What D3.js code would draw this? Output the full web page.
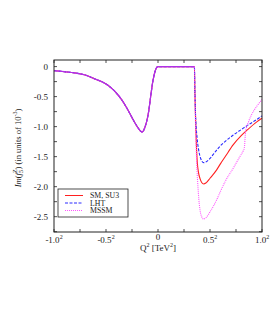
<!DOCTYPE html>
<html><head><meta charset="utf-8">
<script src="https://cdn.jsdelivr.net/npm/d3@7"></script>
<style>body{margin:0;background:#fff;} svg{display:block;} text{font-family:"Liberation Serif","DejaVu Serif",serif;}</style>
</head><body>
<svg id="c" width="273" height="327"></svg>
<script>
// shared part (Q from -1 to 0.35)
const qCommon = [-1.0,-0.9,-0.8,-0.7,-0.6,-0.55,-0.5,-0.45,-0.4,-0.35,-0.3,-0.25,-0.2,-0.17,-0.155,-0.14,-0.13,-0.11,-0.09,-0.07,-0.05,-0.03,-0.01,0.0,0.35];
const vCommon = [-0.067,-0.085,-0.105,-0.14,-0.21,-0.245,-0.29,-0.355,-0.44,-0.55,-0.69,-0.85,-1.0,-1.07,-1.09,-1.07,-1.03,-0.92,-0.75,-0.49,-0.25,-0.09,-0.01,0,0];
// after the threshold
const qSM   = [0.355,0.365,0.378,0.39,0.405,0.42,0.44,0.46,0.5,0.564,0.6,0.65,0.724,0.8,0.868,0.95,1.0];
const vSM   = [-0.45,-1.1,-1.6,-1.77,-1.87,-1.93,-1.955,-1.94,-1.86,-1.72,-1.62,-1.49,-1.30,-1.15,-1.04,-0.92,-0.86];
const qLHT  = [0.355,0.36,0.375,0.39,0.405,0.42,0.44,0.46,0.5,0.564,0.6,0.65,0.724,0.8,0.868,0.95,1.0];
const vLHT  = [-0.4,-0.75,-1.17,-1.38,-1.50,-1.57,-1.60,-1.59,-1.53,-1.39,-1.32,-1.24,-1.14,-1.05,-0.97,-0.88,-0.82];
const qMSSM = [0.355,0.37,0.388,0.404,0.42,0.44,0.46,0.5,0.564,0.6,0.65,0.724,0.78,0.82,0.83,0.84,0.85,0.868,0.9,0.95,1.0];
const vMSSM = [-0.5,-1.5,-2.1,-2.39,-2.50,-2.54,-2.52,-2.42,-2.22,-2.08,-1.90,-1.69,-1.52,-1.40,-1.36,-1.12,-1.02,-0.93,-0.80,-0.66,-0.55];
const xTicks = [-1,-0.5,0,0.5,1];
const xTickLabels = ["-1.0","-0.5","0","0.5","1.0"];
const yTicks = [0,-0.5,-1,-1.5,-2,-2.5];
const yTickLabels = ["0","-0.5","-1.0","-1.5","-2.0","-2.5"];
const legendNames = ["SM, SU3","LHT","MSSM"];

const svg = d3.select("#c");
const L=54, R=262, T=60, B=232;
const x = d3.scaleLinear().domain([-1,1]).range([L,R]);
const y = d3.scaleLinear().domain([-2.755,0.11]).range([B,T]);

const series = [
  {q:qCommon.concat(qSM), v:vCommon.concat(vSM), color:"#ff2020", dash:null},
  {q:qCommon.concat(qLHT), v:vCommon.concat(vLHT), color:"#2a2aff", dash:"3,1.5"},
  {q:qCommon.concat(qMSSM), v:vCommon.concat(vMSSM), color:"#ff55ff", dash:"1,1"}
];
const line = d3.line().x(d=>x(d[0])).y(d=>y(d[1])).curve(d3.curveMonotoneX);
series.forEach(s=>{
  svg.append("path").datum(s.q.map((q,i)=>[q,s.v[i]]))
    .attr("d",line).attr("fill","none").attr("stroke",s.color)
    .attr("stroke-width",1.1).attr("stroke-dasharray",s.dash);
});
// overlapping shared part renders as a blended purple line
svg.append("path").datum(qCommon.map((q,i)=>[q,vCommon[i]]))
  .attr("d",line).attr("fill","none").attr("stroke","#b030e8").attr("stroke-width",1.2);

// frame
svg.append("rect").attr("x",L).attr("y",T).attr("width",R-L).attr("height",B-T)
  .attr("fill","none").attr("stroke","#222").attr("stroke-width",1);

// ticks
const xMinor = d3.range(-1,1.0001,0.25);
const yMinor = d3.range(0,-2.76,-0.25);
const tg = svg.append("g").attr("stroke","#222").attr("stroke-width",0.8);
xMinor.forEach(t=>{
  tg.append("line").attr("x1",x(t)).attr("x2",x(t)).attr("y1",B).attr("y2",B-3);
  tg.append("line").attr("x1",x(t)).attr("x2",x(t)).attr("y1",T).attr("y2",T+3);
});
yMinor.forEach(t=>{
  tg.append("line").attr("y1",y(t)).attr("y2",y(t)).attr("x1",L).attr("x2",L+3);
  tg.append("line").attr("y1",y(t)).attr("y2",y(t)).attr("x1",R).attr("x2",R-3);
});

// y tick labels
yTicks.forEach((t,i)=>{
  svg.append("text").attr("x",L-6).attr("y",y(t)+3).attr("text-anchor","end")
    .attr("font-size",9).attr("fill","#222").text(yTickLabels[i]);
});
// x tick labels
xTicks.forEach((t,i)=>{
  const tx = svg.append("text").attr("x",x(t)).attr("y",B+11).attr("text-anchor","middle")
    .attr("font-size",9).attr("fill","#222");
  if(t===0){ tx.attr("y",B+8).text(xTickLabels[i]); }
  else { tx.text(xTickLabels[i]); tx.append("tspan").attr("dy",-4).attr("font-size",6).text("2"); }
});
// x label
const xl = svg.append("text").attr("x",x(0)).attr("y",B+19).attr("text-anchor","middle").attr("font-size",9).attr("fill","#222");
xl.append("tspan").text("Q");
xl.append("tspan").attr("dy",-4).attr("font-size",6).text("2");
xl.append("tspan").attr("dy",4).text(" [TeV");
xl.append("tspan").attr("dy",-4).attr("font-size",6).text("2");
xl.append("tspan").attr("dy",4).text("]");

// y label
const yl = svg.append("text").attr("transform",`translate(21,${(T+B)/2+2}) rotate(-90)`)
  .attr("text-anchor","middle").attr("font-size",8.5).attr("fill","#222");
yl.append("tspan").attr("font-style","italic").text("Im");
yl.append("tspan").text("(");
yl.append("tspan").attr("font-style","italic").text("f");
yl.append("tspan").attr("dy",2).attr("font-size",6).text("5");
yl.append("tspan").attr("dy",-6).attr("dx",-3).attr("font-size",6).text("Z");
yl.append("tspan").attr("dy",4).text(") (in units of 10");
yl.append("tspan").attr("dy",-4).attr("font-size",6).text("-3");
yl.append("tspan").attr("dy",4).text(")");

// legend
const lg = svg.append("g");
lg.append("rect").attr("x",58).attr("y",189).attr("width",70).attr("height",28)
  .attr("fill","#fff").attr("stroke","#222").attr("stroke-width",0.8);
legendNames.forEach((n,i)=>{
  const yy = 195.5 + i*7.5;
  lg.append("line").attr("x1",65).attr("x2",83).attr("y1",yy).attr("y2",yy)
    .attr("stroke",series[i].color).attr("stroke-width",1).attr("stroke-dasharray",series[i].dash);
  lg.append("text").attr("x",90).attr("y",yy+2.7).attr("font-size",7.8).attr("fill","#222").text(n);
});
</script>
</body></html>
